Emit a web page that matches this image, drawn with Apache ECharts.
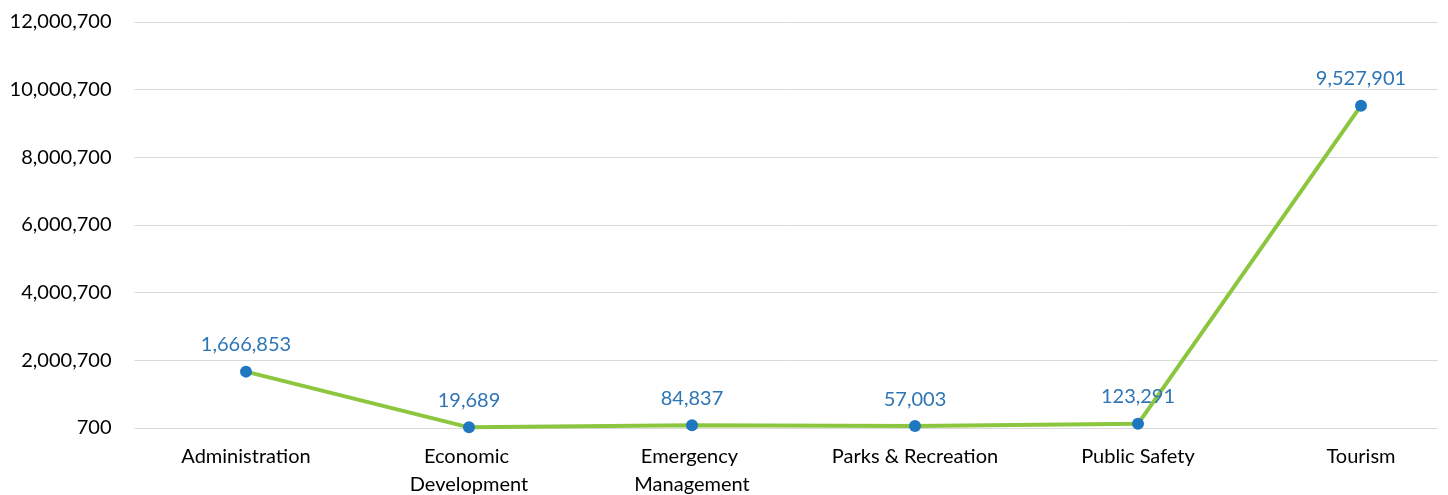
<!DOCTYPE html>
<html>
<head>
<meta charset="utf-8">
<script src="https://cdn.jsdelivr.net/npm/echarts@6/dist/echarts.min.js"></script>
<style>
  html, body { margin: 0; padding: 0; background: #fff; }
  #line { width: 1448px; height: 495px; }
</style>
</head>
<body>
<div id="line"></div>
<script>
var departments = ['Administration', 'Economic Development', 'Emergency Management', 'Parks & Recreation', 'Public Safety', 'Tourism'];
var amounts = [1666853, 19689, 84837, 57003, 123291, 9527901];
var yMin = 700;
var yMax = 12000700;
var yStep = 2000000;

// 数字加千分位
function fmt (v) {
  return Math.round(v).toString().replace(/\B(?=(\d{3})+(?!\d))/g, ',');
}

// 1. 实例化对象
const myChart = echarts.init(document.getElementById('line'));
// 2.指定配置
const option = {
  animation: false,
  textStyle: { fontFamily: 'Lato' },
  grid: {
    left: 134.5,
    right: -24.5,
    top: 22,
    bottom: 67,
    outerBoundsMode: 'none'
  },
  // 右边网格线截断
  graphic: [{
    type: 'rect',
    right: 0,
    top: 10,
    z: 1,
    shape: { width: 10, height: 430 },
    style: { fill: '#fff' }
  }],
  xAxis: {
    type: 'category',
    data: departments,
    boundaryGap: true,
    axisLine: { show: false },
    axisTick: { show: false },
    axisLabel: {
      color: '#000',
      fontSize: 20,
      margin: 15,
      lineHeight: 28,
      width: 195,
      overflow: 'break',
      interval: 0
    }
  },
  yAxis: {
    type: 'value',
    min: yMin,
    max: yMax,
    interval: yStep,
    axisLine: { show: false },
    axisTick: { show: false },
    axisLabel: {
      color: '#000',
      fontSize: 20,
      margin: 23,
      formatter: fmt
    },
    splitLine: {
      lineStyle: { color: '#d9d9d9', width: 1 }
    }
  },
  series: [{
    type: 'line',
    data: amounts,
    symbol: 'circle',
    symbolSize: 12,
    lineStyle: { color: '#8cc63f', width: 4 },
    itemStyle: { color: '#1f77c0' },
    label: {
      show: true,
      position: 'top',
      distance: 11,
      color: '#2e75b6',
      fontSize: 20,
      formatter: function (p) { return fmt(p.value); }
    }
  }]
};
// 3. 把配置给实例对象
myChart.setOption(option);
</script>
</body>
</html>
